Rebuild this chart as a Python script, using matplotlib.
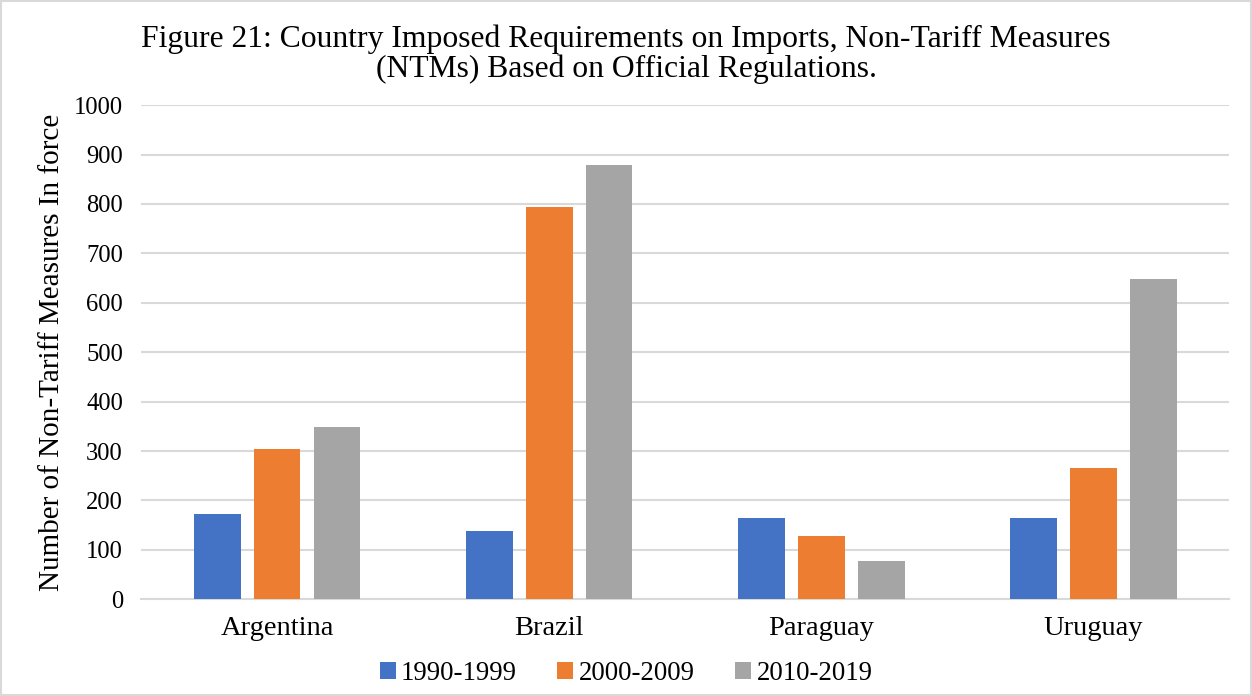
import matplotlib.pyplot as plt
import numpy as np
from matplotlib.patches import Rectangle

plt.rcParams['font.family'] = ['Liberation Serif', 'DejaVu Serif']

countries = ['Argentina', 'Brazil', 'Paraguay', 'Uruguay']
periods = ['1990-1999', '2000-2009', '2010-2019']
ntm_1990s = [172, 139, 164, 164]
ntm_2000s = [304, 793, 128, 266]
ntm_2010s = [349, 878, 78, 649]
colors = ['#4472C4', '#ED7D31', '#A5A5A5']

fig = plt.figure(figsize=(12.52, 6.96), dpi=100)
ax = fig.add_axes([0.1126, 0.139, 0.8694, 0.710])

x = np.arange(len(countries))
w = 0.172
step = 0.22
for i, (vals, lab) in enumerate(zip([ntm_1990s, ntm_2000s, ntm_2010s], periods)):
    ax.bar(x + (i - 1) * step, vals, width=w, color=colors[i], label=lab, zorder=3)

ax.set_xlim(-0.5, 3.5)
ax.set_ylim(0, 1000)
ax.set_yticks(range(0, 1001, 100))
ax.set_xticks(x)
ax.set_xticklabels(countries, fontsize=20.5)
ax.tick_params(axis='y', labelsize=17.7, length=0, pad=13)
ax.tick_params(axis='x', length=0, pad=12)
ax.grid(axis='y', color='#D9D9D9', linewidth=1.5, zorder=0)
for s in ['top', 'right', 'left']:
    ax.spines[s].set_visible(False)
ax.spines['bottom'].set_color('#D9D9D9')
ax.spines['bottom'].set_linewidth(1.5)

ax.set_ylabel('Number of Non-Tariff Measures In force', fontsize=21, labelpad=6)

fig.text(0.5, 0.922, 'Figure 21: Country Imposed Requirements on Imports, Non-Tariff Measures\n(NTMs) Based on Official Regulations.',
         ha='center', va='center', fontsize=22.8, linespacing=1.0)

fig.legend(loc='center', bbox_to_anchor=(0.5, 0.032), ncol=3, frameon=False, fontsize=19.3,
           handlelength=0.6, handleheight=0.6, handletextpad=0.2, columnspacing=1.5)

fig.patches.append(Rectangle((0.001, 0.001), 0.998, 0.997, transform=fig.transFigure,
                             fill=False, edgecolor='#D9D9D9', linewidth=1.5))

fig.savefig('out.png', dpi=100)
